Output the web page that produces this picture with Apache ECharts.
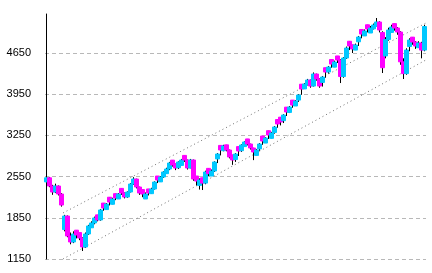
<!DOCTYPE html>
<html><head><meta charset="utf-8">
<script src="https://cdn.jsdelivr.net/npm/echarts@6/dist/echarts.min.js"></script>
<style>html,body{margin:0;padding:0;background:#fff}#c{width:432px;height:273px}</style>
</head><body><div id="c"></div>
<script>
// Candle values
const opens = [2460,2530,2390,2288,2390,2254,1650,1880,1541,1439,
1640,1600,1507,1354,1575,1680,1762,1900,1813,2100,
1990,2200,2080,2260,2170,2350,2271,2203,2288,2424,
2509,2373,2330,2170,2340,2260,2339,2560,2460,2543,
2600,2679,2830,2770,2700,2740,2910,2832,2696,2832,
2560,2400,2530,2440,2690,2560,2645,2850,3080,2990,
3090,3002,2920,2840,3060,2990,3060,3190,3104,3036,
2910,3020,3240,3120,3330,3200,3300,3520,3560,3500,
3730,3640,3850,3750,3850,4120,4040,4110,4191,4089,
4293,4208,4150,4400,4327,4540,4410,4600,4531,4250,
4565,4850,4790,4700,4840,5050,4940,5130,4990,5060,
5100,5177,5000,4600,4880,5000,5150,5075,5007,4500,
4300,4760,4920,4837,4740,4820,4700];
const closes = [2530,2390,2288,2390,2254,2067,1880,1541,1439,1575,
1558,1507,1354,1575,1711,1762,1847,1813,1983,2016,
2084,2118,2169,2186,2254,2271,2203,2288,2424,2509,
2373,2271,2254,2254,2271,2339,2458,2492,2543,2628,
2679,2781,2747,2696,2798,2832,2832,2696,2832,2509,
2475,2492,2440,2628,2600,2645,2798,2934,3002,3070,
3002,2883,2832,2934,2985,3087,3138,3104,3036,2968,
3002,3104,3155,3206,3257,3291,3393,3444,3478,3597,
3648,3732,3766,3834,3936,4038,4123,4191,4089,4293,
4208,4089,4242,4327,4412,4463,4497,4531,4250,4565,
4735,4769,4718,4786,4922,4973,5024,5058,5075,5126,
5177,5041,4400,4880,5041,5092,5075,5007,4500,4300,
4701,4871,4837,4769,4820,4700,5100];
const lows = [2440,2370,2240,2270,2230,2040,1620,1520,1400,1420,
1500,1470,1286,1340,1560,1700,1740,1790,1800,1970,
2000,2060,2120,2150,2170,2240,2180,2190,2280,2410,
2350,2240,2200,2200,2230,2260,2330,2440,2470,2530,
2600,2660,2720,2660,2680,2770,2800,2670,2690,2480,
2400,2330,2322,2420,2560,2580,2630,2780,2910,2980,
2980,2860,2750,2800,2900,2970,3070,3080,3010,2830,
2950,2990,3090,3150,3190,3240,3280,3380,3420,3460,
3580,3630,3720,3750,3820,3940,4040,4100,4060,4080,
4180,4060,4080,4230,4300,4400,4440,4480,4140,4230,
4550,4700,4650,4700,4770,4900,4950,5000,5020,5050,
5100,5000,4310,4560,4860,5010,5030,4960,4450,4208,
4280,4680,4790,4720,4740,4560,4680];
const highs = [2560,2545,2410,2430,2400,2270,1900,1890,1600,1620,
1610,1600,1520,1600,1730,1790,1870,1880,2000,2050,
2100,2140,2190,2210,2270,2310,2280,2300,2440,2540,
2515,2380,2290,2280,2300,2360,2470,2510,2560,2640,
2700,2800,2790,2760,2810,2850,2870,2840,2850,2840,
2560,2520,2500,2650,2660,2670,2810,2950,3020,3090,
3080,3010,2900,2950,3000,3100,3150,3150,3110,3040,
3020,3120,3170,3220,3270,3310,3410,3460,3510,3610,
3660,3750,3780,3850,3950,4050,4140,4210,4200,4320,
4300,4220,4260,4340,4430,4480,4520,4560,4545,4580,
4760,4800,4790,4810,4940,5000,5050,5090,5110,5150,
5245,5190,5020,4920,5080,5130,5140,5090,5020,4560,
4730,4900,4900,4850,4850,4840,5130];
// Channel (trend) lines: [candle index, value]
const upperLine = [[5.5, 1932], [126.5, 5160]];
const lowerLine = [[5.5, 1150], [126.5, 4533]];
// Y axis ticks
const yMin = 1150, yStep = 700, yTop = 5313;

const cats = closes.map((_, i) => String(i));
const full = closes.map((c, i) => [opens[i], c,
  Math.min(lows[i], opens[i], c), Math.max(highs[i], opens[i], c)]);
const bodies = closes.map((c, i) => [opens[i], c, Math.min(opens[i], c), Math.max(opens[i], c)]);

const chart = echarts.init(document.getElementById('c'), null, {renderer: 'canvas'});
chart.setOption({
  animation: false,
  grid: {left: 45, right: 6, top: 14, bottom: 14},
  xAxis: [
    {type: 'category', data: cats, boundaryGap: true, axisLine: {show: false}, axisTick: {show: false}, axisLabel: {show: false}, splitLine: {show: false}},
    {type: 'value', min: -0.5, max: closes.length - 0.5, show: false}
  ],
  yAxis: {
    type: 'value', min: yMin, max: yTop, interval: yStep,
    axisLine: {show: true, lineStyle: {color: '#000', width: 1}},
    axisTick: {show: false},
    axisLabel: {color: '#000', fontFamily: 'Liberation Sans', fontSize: 11, margin: 14,
      formatter: v => ((v - yMin) % yStep === 0 ? String(v) : '')},
    splitLine: {show: true, showMaxLine: false, lineStyle: {color: '#b8b8b8', type: [4, 3], width: 1}}
  },
  series: [
    {type: 'line', xAxisIndex: 1, data: upperLine, symbol: 'none', silent: true, z: 1,
      lineStyle: {color: '#707070', width: 1, type: [1, 3]}},
    {type: 'line', xAxisIndex: 1, data: lowerLine, symbol: 'none', silent: true, z: 1,
      lineStyle: {color: '#707070', width: 1, type: [1, 3]}},
    {type: 'candlestick', data: full, barWidth: 1, z: 2,
      itemStyle: {color: '#000', color0: '#000', borderColor: '#000', borderColor0: '#000', borderWidth: 1}},
    {type: 'candlestick', data: bodies, barWidth: 4, z: 3,
      itemStyle: {color: '#00c8ff', color0: '#ff00ff', borderColor: '#00c8ff', borderColor0: '#ff00ff', borderWidth: 1}}
  ]
});
</script></body></html>
